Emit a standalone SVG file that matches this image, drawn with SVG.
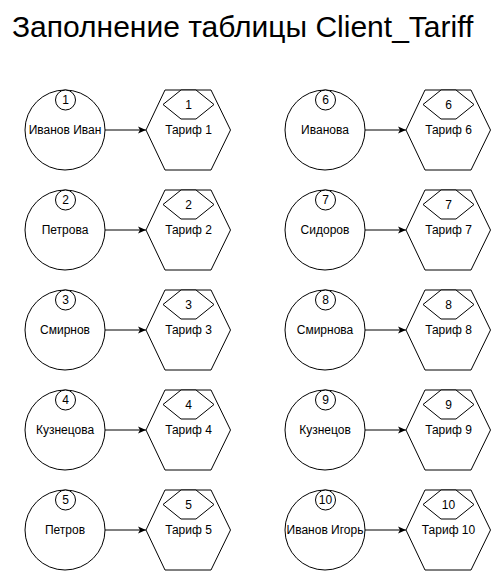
<svg xmlns="http://www.w3.org/2000/svg" width="491" height="571" viewBox="0 0 491 571">
<defs>
<style>
.s{fill:#fff;stroke:#000;stroke-width:1}
.t{font-family:"Liberation Sans",Arial,sans-serif;font-size:12px;fill:#000;text-anchor:middle;dominant-baseline:central}
.title{font-family:"Liberation Sans",Arial,sans-serif;font-size:30px;fill:#000}
.c{stroke:#000;stroke-width:1;fill:none}
</style>
<marker id="arr" viewBox="0 0 8 8" refX="8" refY="4" markerWidth="8" markerHeight="8" markerUnits="userSpaceOnUse" orient="auto">
<path d="M0,0.5 L8,4 L0,7.5 L2,4 Z" fill="#000"/>
</marker>
<polygon id="hex" points="-42.5,0 -23.5,-40 22.5,-40 42,0 22.5,40 -23.5,40"/>
<polygon id="shex" points="-25.5,14.5 -7.5,0 7.5,0 25.5,14.5 7.5,29 -7.5,29"/>
</defs>
<text class="title" x="12" y="37">Заполнение таблицы Client_Tariff</text>

<g id="connectors">
<line class="c" x1="105" y1="130" x2="146" y2="130" marker-end="url(#arr)"/>
<line class="c" x1="105" y1="230" x2="146" y2="230" marker-end="url(#arr)"/>
<line class="c" x1="105" y1="330" x2="146" y2="330" marker-end="url(#arr)"/>
<line class="c" x1="105" y1="430" x2="146" y2="430" marker-end="url(#arr)"/>
<line class="c" x1="105" y1="530" x2="146" y2="530" marker-end="url(#arr)"/>
<line class="c" x1="365" y1="130" x2="406" y2="130" marker-end="url(#arr)"/>
<line class="c" x1="365" y1="230" x2="406" y2="230" marker-end="url(#arr)"/>
<line class="c" x1="365" y1="330" x2="406" y2="330" marker-end="url(#arr)"/>
<line class="c" x1="365" y1="430" x2="406" y2="430" marker-end="url(#arr)"/>
<line class="c" x1="365" y1="530" x2="406" y2="530" marker-end="url(#arr)"/>
</g>

<g id="client1"><circle class="s" cx="65" cy="130" r="40"/><circle class="s" cx="65.5" cy="100" r="10"/><text class="t" x="65.5" y="100">1</text><text class="t" x="65" y="130">Иванов Иван</text></g>
<g id="tariff1"><use href="#hex" class="s" x="188.5" y="130"/><use href="#shex" class="s" x="188.5" y="90"/><text class="t" x="188.5" y="104.5">1</text><text class="t" x="188.5" y="130">Тариф 1</text></g>

<g id="client2"><circle class="s" cx="65" cy="230" r="40"/><circle class="s" cx="65.5" cy="200" r="10"/><text class="t" x="65.5" y="200">2</text><text class="t" x="65" y="230">Петрова</text></g>
<g id="tariff2"><use href="#hex" class="s" x="188.5" y="230"/><use href="#shex" class="s" x="188.5" y="190"/><text class="t" x="188.5" y="204.5">2</text><text class="t" x="188.5" y="230">Тариф 2</text></g>

<g id="client3"><circle class="s" cx="65" cy="330" r="40"/><circle class="s" cx="65.5" cy="300" r="10"/><text class="t" x="65.5" y="300">3</text><text class="t" x="65" y="330">Смирнов</text></g>
<g id="tariff3"><use href="#hex" class="s" x="188.5" y="330"/><use href="#shex" class="s" x="188.5" y="290"/><text class="t" x="188.5" y="304.5">3</text><text class="t" x="188.5" y="330">Тариф 3</text></g>

<g id="client4"><circle class="s" cx="65" cy="430" r="40"/><circle class="s" cx="65.5" cy="400" r="10"/><text class="t" x="65.5" y="400">4</text><text class="t" x="65" y="430">Кузнецова</text></g>
<g id="tariff4"><use href="#hex" class="s" x="188.5" y="430"/><use href="#shex" class="s" x="188.5" y="390"/><text class="t" x="188.5" y="404.5">4</text><text class="t" x="188.5" y="430">Тариф 4</text></g>

<g id="client5"><circle class="s" cx="65" cy="530" r="40"/><circle class="s" cx="65.5" cy="500" r="10"/><text class="t" x="65.5" y="500">5</text><text class="t" x="65" y="530">Петров</text></g>
<g id="tariff5"><use href="#hex" class="s" x="188.5" y="530"/><use href="#shex" class="s" x="188.5" y="490"/><text class="t" x="188.5" y="504.5">5</text><text class="t" x="188.5" y="530">Тариф 5</text></g>

<g id="client6"><circle class="s" cx="325" cy="130" r="40"/><circle class="s" cx="325.5" cy="100" r="10"/><text class="t" x="325.5" y="100">6</text><text class="t" x="325" y="130">Иванова</text></g>
<g id="tariff6"><use href="#hex" class="s" x="448.5" y="130"/><use href="#shex" class="s" x="448.5" y="90"/><text class="t" x="448.5" y="104.5">6</text><text class="t" x="448.5" y="130">Тариф 6</text></g>

<g id="client7"><circle class="s" cx="325" cy="230" r="40"/><circle class="s" cx="325.5" cy="200" r="10"/><text class="t" x="325.5" y="200">7</text><text class="t" x="325" y="230">Сидоров</text></g>
<g id="tariff7"><use href="#hex" class="s" x="448.5" y="230"/><use href="#shex" class="s" x="448.5" y="190"/><text class="t" x="448.5" y="204.5">7</text><text class="t" x="448.5" y="230">Тариф 7</text></g>

<g id="client8"><circle class="s" cx="325" cy="330" r="40"/><circle class="s" cx="325.5" cy="300" r="10"/><text class="t" x="325.5" y="300">8</text><text class="t" x="325" y="330">Смирнова</text></g>
<g id="tariff8"><use href="#hex" class="s" x="448.5" y="330"/><use href="#shex" class="s" x="448.5" y="290"/><text class="t" x="448.5" y="304.5">8</text><text class="t" x="448.5" y="330">Тариф 8</text></g>

<g id="client9"><circle class="s" cx="325" cy="430" r="40"/><circle class="s" cx="325.5" cy="400" r="10"/><text class="t" x="325.5" y="400">9</text><text class="t" x="325" y="430">Кузнецов</text></g>
<g id="tariff9"><use href="#hex" class="s" x="448.5" y="430"/><use href="#shex" class="s" x="448.5" y="390"/><text class="t" x="448.5" y="404.5">9</text><text class="t" x="448.5" y="430">Тариф 9</text></g>

<g id="client10"><circle class="s" cx="325" cy="530" r="40"/><circle class="s" cx="325.5" cy="500" r="10"/><text class="t" x="325.5" y="500">10</text><text class="t" x="325" y="530">Иванов Игорь</text></g>
<g id="tariff10"><use href="#hex" class="s" x="448.5" y="530"/><use href="#shex" class="s" x="448.5" y="490"/><text class="t" x="448.5" y="504.5">10</text><text class="t" x="448.5" y="530">Тариф 10</text></g>
</svg>
